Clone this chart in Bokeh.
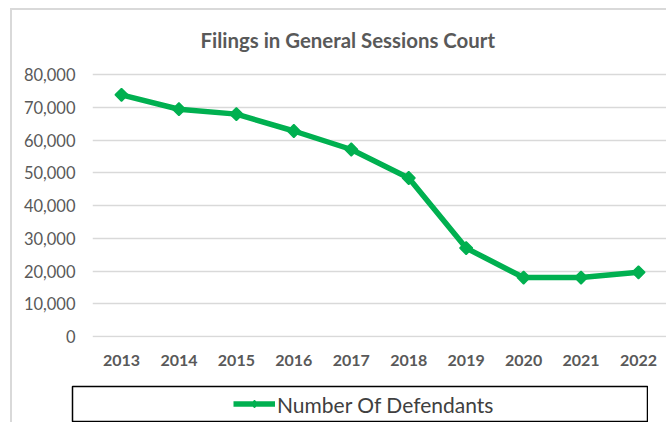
import math
from bokeh.plotting import figure
from bokeh.models import (Range1d, FixedTicker, NumeralTickFormatter, Legend, LegendItem,
                          Column, Row, Spacer)
from bokeh.embed import file_html
from bokeh.resources import INLINE

# ---- data ----
years = [2013, 2014, 2015, 2016, 2017, 2018, 2019, 2020, 2021, 2022]
defendants = [73800, 69400, 67900, 62750, 57100, 48400, 27000, 18000, 18000, 19600]
y_ticks = [0, 10000, 20000, 30000, 40000, 50000, 60000, 70000, 80000]
title_text = "Filings in General Sessions Court"
series_name = "Number Of Defendants"

GREEN = "#00B050"
GRAY_TXT = "#595959"
FONT = "Lato"

p = figure(width=654, height=375, output_backend="svg", toolbar_location=None,
           x_range=Range1d(2012.495, 2022.4875), y_range=Range1d(-300, 82748),
           min_border_left=80, min_border_right=0, min_border_top=55, min_border_bottom=48)
p.outline_line_color = None
p.title.text = title_text
p.title.text_font = FONT
p.title.text_font_size = "20.4px"
p.title.text_font_style = "bold"
p.title.text_color = GRAY_TXT
p.title.align = "left"
p.title.offset = 108
p.title.standoff = 28

p.line(years, defendants, line_color=GREEN, line_width=5.5, line_join="round")
p.scatter(years, defendants, marker="square", angle=math.pi / 4, size=9,
          fill_color=GREEN, line_color=GREEN, line_width=1.5)

p.xaxis.ticker = FixedTicker(ticks=years)
p.xaxis.axis_line_color = None
p.xaxis.major_tick_line_color = None
p.xaxis.minor_tick_line_color = None
p.xaxis.major_tick_out = 0
p.xaxis.major_label_standoff = 17
p.xaxis.major_label_text_font = FONT
p.xaxis.major_label_text_font_size = "16px"
p.xaxis.major_label_text_font_style = "bold"
p.xaxis.major_label_text_color = GRAY_TXT

p.yaxis.ticker = FixedTicker(ticks=y_ticks)
p.yaxis.formatter = NumeralTickFormatter(format="0,0")
p.yaxis.axis_line_color = None
p.yaxis.major_tick_line_color = None
p.yaxis.minor_tick_line_color = None
p.yaxis.major_tick_out = 0
p.yaxis.major_label_standoff = 17
p.yaxis.major_label_text_font = FONT
p.yaxis.major_label_text_font_size = "16.5px"
p.yaxis.major_label_text_color = GRAY_TXT

p.xgrid.grid_line_color = None
p.ygrid.ticker = FixedTicker(ticks=y_ticks)
p.ygrid.grid_line_color = "#d9d9d9"
p.ygrid.grid_line_width = 1.5

# ---- legend box (separate small figure, its frame outline is the box) ----
q = figure(width=577, height=37, output_backend="svg", toolbar_location=None,
           x_range=Range1d(0, 1), y_range=Range1d(0, 1),
           x_axis_location=None, y_axis_location=None,
           min_border_left=1, min_border_right=1, min_border_top=1, min_border_bottom=1)
q.grid.visible = False
q.outline_line_color = "black"
q.outline_line_width = 1.5
# same series, outside this small figure's ranges: only its legend glyph shows
lr = q.line(years, defendants, line_color=GREEN, line_width=5.5)
sr = q.scatter(years, defendants, marker="diamond", size=16,
               fill_color=GREEN, line_color=GREEN, line_width=1)
legend = Legend(items=[LegendItem(label=series_name, renderers=[lr, sr])],
                location="left", margin=161, padding=0, spacing=0,
                glyph_width=42, glyph_height=20, label_standoff=2,
                label_text_font=FONT, label_text_font_size="21px", label_text_color="#404040",
                border_line_color=None, background_fill_alpha=0)
q.add_layout(legend)

legend_row = Row(children=[Spacer(width=59, height=37), q], spacing=0)

layout = Column(children=[p, legend_row], spacing=0, margin=(8, 0, 0, 10),
                styles={"border-left": "2px solid #d9d9d9", "border-top": "2px solid #d9d9d9"})

open("out.html", "w").write(file_html(layout, INLINE))
